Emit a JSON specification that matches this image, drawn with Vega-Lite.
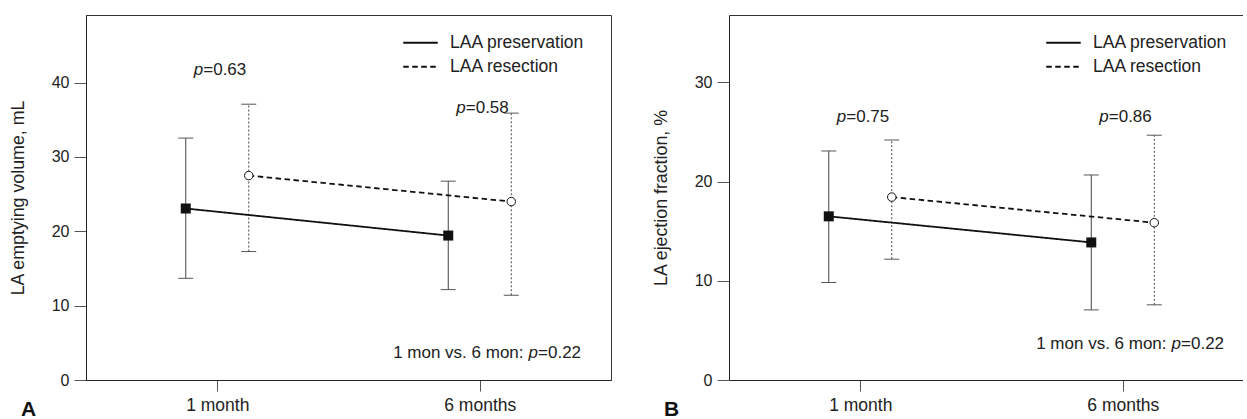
{
  "$schema": "https://vega.github.io/schema/vega-lite/v6.json",
  "padding": {"left": 8, "top": 14, "right": 0, "bottom": 0},
  "background": "white",
  "datasets": {
    "stats": [
      {"panel": "A", "group": "LAA preservation", "month": 1, "mean": 23.07, "lo": 13.68, "hi": 32.54},
      {"panel": "A", "group": "LAA preservation", "month": 6, "mean": 19.43, "lo": 12.16, "hi": 26.75},
      {"panel": "A", "group": "LAA resection", "month": 1, "mean": 27.5, "lo": 17.28, "hi": 37.1},
      {"panel": "A", "group": "LAA resection", "month": 6, "mean": 24.0, "lo": 11.4, "hi": 35.9},
      {"panel": "B", "group": "LAA preservation", "month": 1, "mean": 16.5, "lo": 9.83, "hi": 23.09},
      {"panel": "B", "group": "LAA preservation", "month": 6, "mean": 13.87, "lo": 7.07, "hi": 20.67},
      {"panel": "B", "group": "LAA resection", "month": 1, "mean": 18.44, "lo": 12.18, "hi": 24.2},
      {"panel": "B", "group": "LAA resection", "month": 6, "mean": 15.86, "lo": 7.58, "hi": 24.68}
    ],
    "pvals": [
      {"panel": "A", "month": 1, "y": 41.0, "label": "=0.63"},
      {"panel": "A", "month": 6, "y": 35.9, "label": "=0.58"},
      {"panel": "B", "month": 1, "y": 26.0, "label": "=0.75"},
      {"panel": "B", "month": 6, "y": 26.0, "label": "=0.86"}
    ],
    "overall": [
      {"panel": "A", "month": 7.11, "y": 3.0, "prefix": "1 mon vs. 6 mon:", "label": "=0.22"},
      {"panel": "B", "month": 7.11, "y": 3.16, "prefix": "1 mon vs. 6 mon:", "label": "=0.22"}
    ]
  },
  "hconcat": [
    {
      "width": 525,
      "height": 365,
      "title": {"text": "A", "orient": "bottom", "anchor": "start", "frame": "group", "dx": -65, "offset": -15, "font": "Liberation Sans", "fontSize": 21, "fontWeight": "bold", "color": "#111"},
      "encoding": {
        "x": {"field": "month", "type": "quantitative", "scale": {"domain": [-1.5, 8.5], "nice": false, "zero": false}, "axis": {"values": [1, 6], "labelExpr": "datum.value === 1 ? '1 month' : '6 months'", "title": null}},
        "y": {"field": "mean", "type": "quantitative", "scale": {"domain": [0, 49.1], "nice": false, "zero": false}, "axis": {"values": [0, 10, 20, 30, 40], "title": "LA emptying volume, mL"}}
      },
      "layer": [
        {"data": {"name": "stats"}, "transform": [{"filter": "datum.panel === 'A' && datum.group === 'LAA preservation'"}],
         "mark": {"type": "rule", "xOffset": -31.5, "color": "#444", "strokeWidth": 1},
         "encoding": {"y": {"field": "lo", "type": "quantitative", "scale": {"domain": [0, 49.1], "nice": false, "zero": false}}, "y2": {"field": "hi"}}},
        {"data": {"name": "stats"}, "transform": [{"filter": "datum.panel === 'A' && datum.group === 'LAA resection'"}],
         "mark": {"type": "rule", "xOffset": 31.5, "color": "#444", "strokeWidth": 1, "strokeDash": [2, 2]},
         "encoding": {"y": {"field": "lo", "type": "quantitative", "scale": {"domain": [0, 49.1], "nice": false, "zero": false}}, "y2": {"field": "hi"}}},
        {"data": {"name": "stats"}, "transform": [{"filter": "datum.panel === 'A' && datum.group === 'LAA preservation'"}, {"fold": ["lo", "hi"], "as": ["bound", "val"]}],
         "mark": {"type": "tick", "orient": "horizontal", "size": 15, "thickness": 1, "color": "#555", "opacity": 1, "xOffset": -31.5},
         "encoding": {"y": {"field": "val", "type": "quantitative", "scale": {"domain": [0, 49.1], "nice": false, "zero": false}}}},
        {"data": {"name": "stats"}, "transform": [{"filter": "datum.panel === 'A' && datum.group === 'LAA resection'"}, {"fold": ["lo", "hi"], "as": ["bound", "val"]}],
         "mark": {"type": "tick", "orient": "horizontal", "size": 15, "thickness": 1, "color": "#555", "opacity": 1, "xOffset": 31.5},
         "encoding": {"y": {"field": "val", "type": "quantitative", "scale": {"domain": [0, 49.1], "nice": false, "zero": false}}}},
        {"data": {"name": "stats"}, "transform": [{"filter": "datum.panel === 'A' && datum.group === 'LAA preservation'"}],
         "mark": {"type": "line", "xOffset": -31.5, "color": "#111", "strokeWidth": 1.8},
         "encoding": {"strokeDash": {"field": "group", "type": "nominal", "scale": {"domain": ["LAA preservation", "LAA resection"], "range": [[1, 0], [5.5, 3.5]]}, "legend": {}}}},
        {"data": {"name": "stats"}, "transform": [{"filter": "datum.panel === 'A' && datum.group === 'LAA resection'"}],
         "mark": {"type": "line", "xOffset": 31.5, "color": "#111", "strokeWidth": 1.8},
         "encoding": {"strokeDash": {"field": "group", "type": "nominal", "scale": {"domain": ["LAA preservation", "LAA resection"], "range": [[1, 0], [5.5, 3.5]]}, "legend": {}}}},
        {"data": {"name": "stats"}, "transform": [{"filter": "datum.panel === 'A' && datum.group === 'LAA preservation'"}],
         "mark": {"type": "square", "size": 100, "color": "#111", "filled": true, "opacity": 1, "xOffset": -31.5}},
        {"data": {"name": "stats"}, "transform": [{"filter": "datum.panel === 'A' && datum.group === 'LAA resection'"}],
         "mark": {"type": "point", "shape": "circle", "size": 72, "filled": true, "fill": "white", "stroke": "#111", "strokeWidth": 1, "opacity": 1, "xOffset": 31.5}},
        {"data": {"name": "pvals"}, "transform": [{"filter": "datum.panel === 'A'"}],
         "mark": {"type": "text", "text": "p", "align": "right", "baseline": "alphabetic", "dx": -14, "fontStyle": "italic", "fontSize": 17, "color": "#222"},
         "encoding": {"y": {"field": "y", "type": "quantitative", "scale": {"domain": [0, 49.1], "nice": false, "zero": false}}}},
        {"data": {"name": "pvals"}, "transform": [{"filter": "datum.panel === 'A'"}],
         "mark": {"type": "text", "align": "left", "baseline": "alphabetic", "dx": -14, "fontSize": 17, "color": "#222"},
         "encoding": {"y": {"field": "y", "type": "quantitative", "scale": {"domain": [0, 49.1], "nice": false, "zero": false}}, "text": {"field": "label"}}},
        {"data": {"name": "overall"}, "transform": [{"filter": "datum.panel === 'A'"}],
         "mark": {"type": "text", "align": "right", "baseline": "alphabetic", "dx": -14.5, "fontSize": 17, "color": "#222"},
         "encoding": {"y": {"field": "y", "type": "quantitative", "scale": {"domain": [0, 49.1], "nice": false, "zero": false}}, "text": {"field": "prefix"}}},
        {"data": {"name": "overall"}, "transform": [{"filter": "datum.panel === 'A'"}],
         "mark": {"type": "text", "text": "p", "align": "right", "baseline": "alphabetic", "fontStyle": "italic", "fontSize": 17, "color": "#222"},
         "encoding": {"y": {"field": "y", "type": "quantitative", "scale": {"domain": [0, 49.1], "nice": false, "zero": false}}}},
        {"data": {"name": "overall"}, "transform": [{"filter": "datum.panel === 'A'"}],
         "mark": {"type": "text", "align": "left", "baseline": "alphabetic", "fontSize": 17, "color": "#222"},
         "encoding": {"y": {"field": "y", "type": "quantitative", "scale": {"domain": [0, 49.1], "nice": false, "zero": false}}, "text": {"field": "label"}}}
      ]
    },
    {
      "width": 514,
      "height": 365,
      "view": {"stroke": null},
      "title": {"text": "B", "orient": "bottom", "anchor": "start", "frame": "group", "dx": -65, "offset": -15, "font": "Liberation Sans", "fontSize": 21, "fontWeight": "bold", "color": "#111"},
      "resolve": {"axis": {"x": "independent", "y": "independent"}},
      "layer": [
        {
          "encoding": {
            "x": {"field": "month", "type": "quantitative", "scale": {"domain": [-1.5, 8.29], "nice": false, "zero": false}, "axis": {"values": [1, 6], "labelExpr": "datum.value === 1 ? '1 month' : '6 months'", "title": null}},
            "y": {"field": "mean", "type": "quantitative", "scale": {"domain": [0, 36.8], "nice": false, "zero": false}, "axis": {"values": [0, 10, 20, 30], "title": "LA ejection fraction, %"}}
          },
          "layer": [
            {"data": {"name": "stats"}, "transform": [{"filter": "datum.panel === 'B' && datum.group === 'LAA preservation'"}],
             "mark": {"type": "rule", "xOffset": -31.5, "color": "#444", "strokeWidth": 1},
             "encoding": {"y": {"field": "lo", "type": "quantitative", "scale": {"domain": [0, 36.8], "nice": false, "zero": false}}, "y2": {"field": "hi"}}},
            {"data": {"name": "stats"}, "transform": [{"filter": "datum.panel === 'B' && datum.group === 'LAA resection'"}],
             "mark": {"type": "rule", "xOffset": 31.5, "color": "#444", "strokeWidth": 1, "strokeDash": [2, 2]},
             "encoding": {"y": {"field": "lo", "type": "quantitative", "scale": {"domain": [0, 36.8], "nice": false, "zero": false}}, "y2": {"field": "hi"}}},
            {"data": {"name": "stats"}, "transform": [{"filter": "datum.panel === 'B' && datum.group === 'LAA preservation'"}, {"fold": ["lo", "hi"], "as": ["bound", "val"]}],
             "mark": {"type": "tick", "orient": "horizontal", "size": 15, "thickness": 1, "color": "#555", "opacity": 1, "xOffset": -31.5},
             "encoding": {"y": {"field": "val", "type": "quantitative", "scale": {"domain": [0, 36.8], "nice": false, "zero": false}}}},
            {"data": {"name": "stats"}, "transform": [{"filter": "datum.panel === 'B' && datum.group === 'LAA resection'"}, {"fold": ["lo", "hi"], "as": ["bound", "val"]}],
             "mark": {"type": "tick", "orient": "horizontal", "size": 15, "thickness": 1, "color": "#555", "opacity": 1, "xOffset": 31.5},
             "encoding": {"y": {"field": "val", "type": "quantitative", "scale": {"domain": [0, 36.8], "nice": false, "zero": false}}}},
            {"data": {"name": "stats"}, "transform": [{"filter": "datum.panel === 'B' && datum.group === 'LAA preservation'"}],
             "mark": {"type": "line", "xOffset": -31.5, "color": "#111", "strokeWidth": 1.8},
             "encoding": {"strokeDash": {"field": "group", "type": "nominal", "scale": {"domain": ["LAA preservation", "LAA resection"], "range": [[1, 0], [5.5, 3.5]]}, "legend": {}}}},
            {"data": {"name": "stats"}, "transform": [{"filter": "datum.panel === 'B' && datum.group === 'LAA resection'"}],
             "mark": {"type": "line", "xOffset": 31.5, "color": "#111", "strokeWidth": 1.8},
             "encoding": {"strokeDash": {"field": "group", "type": "nominal", "scale": {"domain": ["LAA preservation", "LAA resection"], "range": [[1, 0], [5.5, 3.5]]}, "legend": {}}}},
            {"data": {"name": "stats"}, "transform": [{"filter": "datum.panel === 'B' && datum.group === 'LAA preservation'"}],
             "mark": {"type": "square", "size": 100, "color": "#111", "filled": true, "opacity": 1, "xOffset": -31.5}},
            {"data": {"name": "stats"}, "transform": [{"filter": "datum.panel === 'B' && datum.group === 'LAA resection'"}],
             "mark": {"type": "point", "shape": "circle", "size": 72, "filled": true, "fill": "white", "stroke": "#111", "strokeWidth": 1, "opacity": 1, "xOffset": 31.5}},
            {"data": {"name": "pvals"}, "transform": [{"filter": "datum.panel === 'B'"}],
             "mark": {"type": "text", "text": "p", "align": "right", "baseline": "alphabetic", "dx": -14, "fontStyle": "italic", "fontSize": 17, "color": "#222"},
             "encoding": {"y": {"field": "y", "type": "quantitative", "scale": {"domain": [0, 36.8], "nice": false, "zero": false}}}},
            {"data": {"name": "pvals"}, "transform": [{"filter": "datum.panel === 'B'"}],
             "mark": {"type": "text", "align": "left", "baseline": "alphabetic", "dx": -14, "fontSize": 17, "color": "#222"},
             "encoding": {"y": {"field": "y", "type": "quantitative", "scale": {"domain": [0, 36.8], "nice": false, "zero": false}}, "text": {"field": "label"}}},
            {"data": {"name": "overall"}, "transform": [{"filter": "datum.panel === 'B'"}],
             "mark": {"type": "text", "align": "right", "baseline": "alphabetic", "dx": -14.5, "fontSize": 17, "color": "#222"},
             "encoding": {"y": {"field": "y", "type": "quantitative", "scale": {"domain": [0, 36.8], "nice": false, "zero": false}}, "text": {"field": "prefix"}}},
            {"data": {"name": "overall"}, "transform": [{"filter": "datum.panel === 'B'"}],
             "mark": {"type": "text", "text": "p", "align": "right", "baseline": "alphabetic", "fontStyle": "italic", "fontSize": 17, "color": "#222"},
             "encoding": {"y": {"field": "y", "type": "quantitative", "scale": {"domain": [0, 36.8], "nice": false, "zero": false}}}},
            {"data": {"name": "overall"}, "transform": [{"filter": "datum.panel === 'B'"}],
             "mark": {"type": "text", "align": "left", "baseline": "alphabetic", "fontSize": 17, "color": "#222"},
             "encoding": {"y": {"field": "y", "type": "quantitative", "scale": {"domain": [0, 36.8], "nice": false, "zero": false}}, "text": {"field": "label"}}}
          ]
        },
        {
          "data": {"name": "stats"},
          "transform": [{"filter": "datum.panel === 'B'"}],
          "mark": {"type": "point", "opacity": 0},
          "encoding": {
            "x": {"field": "month", "type": "quantitative", "scale": {"domain": [-1.5, 8.29], "nice": false, "zero": false}, "axis": {"orient": "top", "labels": false, "ticks": false, "title": null, "domainColor": "#333"}},
            "y": {"field": "mean", "type": "quantitative", "scale": {"domain": [0, 36.8], "nice": false, "zero": false}, "axis": null}
          }
        }
      ]
    }
  ],
  "spacing": 40,
  "resolve": {
    "scale": {"x": "independent", "y": "independent", "strokeDash": "independent"},
    "legend": {"strokeDash": "independent"}
  },
  "config": {
    "font": "Liberation Sans, sans-serif",
    "view": {"stroke": "#333", "strokeWidth": 1},
    "axis": {"grid": false, "domainColor": "#222", "domainWidth": 1, "tickColor": "#555", "tickWidth": 1, "labelColor": "#222", "labelFont": "Liberation Sans, sans-serif", "titleFont": "Liberation Sans, sans-serif", "titleFontWeight": "normal", "titleColor": "#222"},
    "axisX": {"tickSize": 11, "labelFontSize": 17.5, "labelPadding": 5},
    "axisY": {"tickSize": 12, "labelFontSize": 16, "labelPadding": 5, "titleFontSize": 17.8, "titlePadding": 24},
    "legend": {"orient": "none", "legendX": 316, "legendY": 16, "title": null, "symbolType": "stroke", "symbolSize": 1190, "symbolStrokeWidth": 1.8, "symbolStrokeColor": "#111", "labelFont": "Liberation Sans, sans-serif", "labelFontSize": 17.5, "labelLimit": 400, "labelColor": "#222", "labelOffset": 11, "clipHeight": 23.5, "rowPadding": 0, "padding": 0, "offset": 0},
    "text": {"font": "Liberation Sans, sans-serif"}
  }
}
